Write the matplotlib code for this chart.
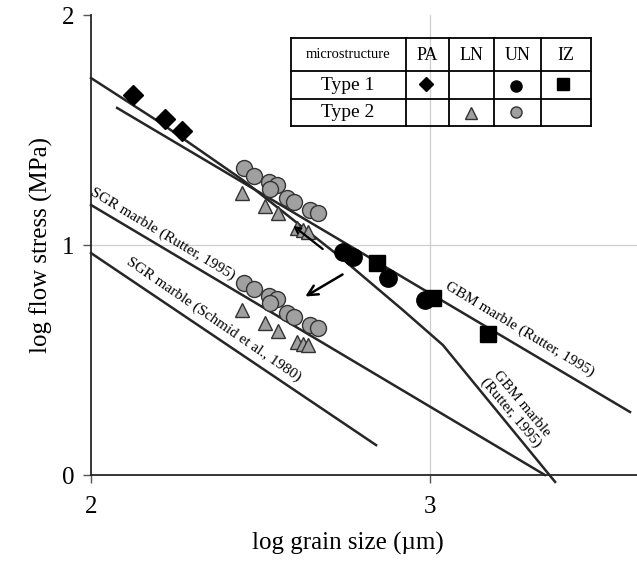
import matplotlib
matplotlib.use('Agg')
import matplotlib.pyplot as plt

plt.rcParams['font.family'] = ['Liberation Serif', 'DejaVu Serif']

# log grain size (um) / log flow stress (MPa)
pa1_x = [2.124, 2.218, 2.268]
pa1_y = [1.652, 1.548, 1.496]
un1_x = [2.743, 2.773, 2.876, 2.985]
un1_y = [0.970, 0.948, 0.857, 0.761]
iz1_x = [2.844, 3.009, 3.171]
iz1_y = [0.922, 0.770, 0.613]

un2_x = [2.451, 2.481, 2.525, 2.549, 2.528, 2.578, 2.599, 2.646, 2.670]
un2_y = [1.335, 1.300, 1.274, 1.261, 1.243, 1.204, 1.187, 1.152, 1.139]
un2c_y = [0.835, 0.809, 0.778, 0.765, 0.748, 0.704, 0.687, 0.652, 0.639]
ln2_x = [2.445, 2.513, 2.552, 2.608, 2.625, 2.640]
ln2_y = [1.226, 1.170, 1.139, 1.074, 1.065, 1.057]
ln2c_y = [0.717, 0.661, 0.626, 0.578, 0.570, 0.565]

# piezometer / flow law lines
gbm_x = [2.077, 3.590]
gbm_y = [1.596, 0.274]
gbm2_x = [2.0, 2.2, 2.45, 2.735, 2.920, 3.038, 3.369]
gbm2_y = [1.726, 1.536, 1.280, 0.948, 0.717, 0.565, -0.030]
sgr_r_x = [2.0, 3.339]
sgr_r_y = [1.174, 0.0]
sgr_s_x = [2.0, 2.841]
sgr_s_y = [0.965, 0.130]

line_c = '#262626'
grey = '#a0a0a0'

fig = plt.figure(figsize=(6.37, 5.64), dpi=100)
ax = fig.add_axes([91/637, 1-475/564, 546/637, 460/564])
ax.set_xlim(2, 2 + 546/339)
ax.set_ylim(0, 2)

ax.axvline(3, color='#cfcfcf', lw=0.9, zorder=0)
ax.axhline(1, color='#cfcfcf', lw=0.9, zorder=0)

for lx, ly in [(gbm_x, gbm_y), (gbm2_x, gbm2_y), (sgr_r_x, sgr_r_y), (sgr_s_x, sgr_s_y)]:
    ax.plot(lx, ly, color=line_c, lw=1.8, clip_on=False, zorder=2,
            solid_joinstyle='round')

mk = dict(linestyle='none', zorder=3, markeredgewidth=1.0)
ax.plot(pa1_x, pa1_y, marker='D', ms=10, color='k', **mk)
ax.plot(un1_x, un1_y, marker='o', ms=12.5, color='k', **mk)
ax.plot(iz1_x, iz1_y, marker='s', ms=11, color='k', **mk)
ax.plot(un2_x, un2_y, marker='o', ms=11.5, mfc=grey, mec='#333333', **mk)
ax.plot(un2_x, un2c_y, marker='o', ms=11.5, mfc=grey, mec='#333333', **mk)
ax.plot(ln2_x, ln2_y, marker='^', ms=10.5, mfc=grey, mec='#333333', **mk)
ax.plot(ln2_x, ln2c_y, marker='^', ms=10.5, mfc=grey, mec='#333333', **mk)

# shift arrows
ax.annotate('', xy=(2.590, 1.091), xytext=(2.690, 0.975),
            arrowprops=dict(arrowstyle='->', color='k', lw=1.6), zorder=4)
ax.annotate('', xy=(2.625, 0.770), xytext=(2.749, 0.878),
            arrowprops=dict(arrowstyle='->', color='k', lw=1.8,
                            mutation_scale=18), zorder=4)

lab = dict(fontsize=11, ha='center', va='center', rotation_mode='anchor')
ax.text(2.212, 1.048, 'SGR marble (Rutter, 1995)', rotation=-31, **lab)
ax.text(2.363, 0.674, 'SGR marble (Schmid et al., 1980)', rotation=-34.5, **lab)
ax.text(3.265, 0.635, 'GBM marble (Rutter, 1995)', rotation=-31, **lab)
ax.text(3.254, 0.291, 'GBM marble\n(Rutter, 1995)', rotation=-50,
        linespacing=1.0, **lab)

for s in ['top', 'right']:
    ax.spines[s].set_visible(False)
for s in ['left', 'bottom']:
    ax.spines[s].set_color(line_c)
    ax.spines[s].set_linewidth(1.3)
ax.set_xticks([2, 3])
ax.set_yticks([0, 1, 2])
ax.set_xticklabels(['2', '3'])
ax.set_yticklabels(['0', '1', '2'])
ax.tick_params(axis='both', direction='out', length=6, width=1.0,
               color='#555555', labelsize=18)
ax.tick_params(axis='x', pad=9)
ax.tick_params(axis='y', pad=6)

fig.text(41/637, 1-245/564, 'log flow stress (MPa)', rotation=90,
         fontsize=18, ha='center', va='center')
fig.text(348/637, 1-543/564, 'log grain size (\u00b5m)',
         fontsize=18, ha='center', va='center')

# legend table
tab = fig.add_axes([291/637, 1-126/564, 300/637, 88/564])
tab.set_xlim(0, 300)
tab.set_ylim(88, 0)
tab.axis('off')
col_edges = [0, 115, 158, 203, 250, 300]
row_edges = [0, 33, 61, 88]
for cx in col_edges:
    tab.plot([cx, cx], [0, 88], color='k', lw=1.3, clip_on=False)
for ry in row_edges:
    tab.plot([0, 300], [ry, ry], color='k', lw=1.3, clip_on=False)
heads = ['microstructure', 'PA', 'LN', 'UN', 'IZ']
for i, h in enumerate(heads):
    cx = (col_edges[i] + col_edges[i+1]) / 2
    tab.text(cx, 17, h, fontsize=10.5 if i == 0 else 13, ha='center', va='center')
tab.text(57, 47, 'Type 1', fontsize=14, ha='center', va='center')
tab.text(57, 75, 'Type 2', fontsize=14, ha='center', va='center')
tab.plot([135], [46], marker='D', ms=7, color='k', linestyle='none')
tab.plot([225], [48], marker='o', ms=8, color='k', linestyle='none')
tab.plot([272], [46], marker='s', ms=8, color='k', linestyle='none')
tab.plot([180], [75], marker='^', ms=8, mfc=grey, mec='#333333', linestyle='none')
tab.plot([225], [74], marker='o', ms=8, mfc=grey, mec='#333333', linestyle='none')

fig.savefig('out.png', dpi=100)
